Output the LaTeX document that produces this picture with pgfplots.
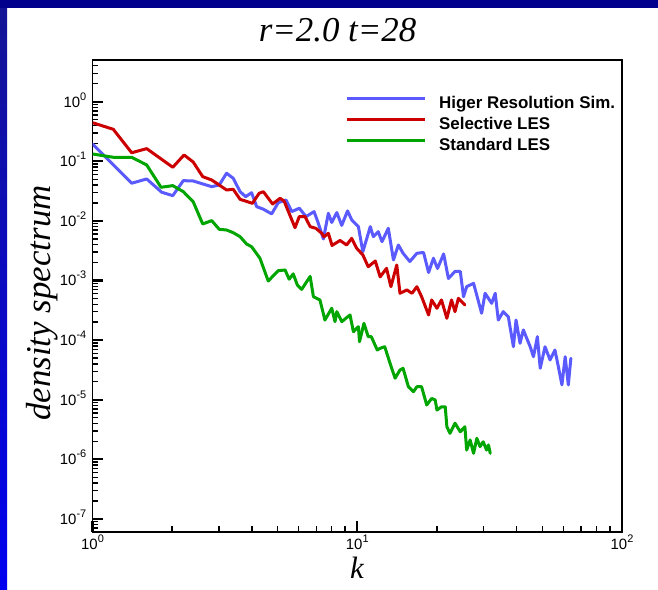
\documentclass[border=0pt]{standalone}
\usepackage{fontspec}
\setmainfont{Liberation Serif}
\newfontfamily\arial{Liberation Sans}
\usepackage{pgfplots}
\pgfplotsset{compat=1.18}
\definecolor{cblue}{RGB}{90,90,255}
\definecolor{cred}{RGB}{204,0,0}
\definecolor{cgreen}{RGB}{0,165,0}
\definecolor{navy}{RGB}{0,0,140}
\newcommand\ex[1]{\raisebox{7bp}{\fontsize{11}{11}\selectfont #1}}
\pgfplotsset{spec/.style={line width=3bp, line join=round, line cap=round}}
\begin{document}
\begin{tikzpicture}
\useasboundingbox (0,0) rectangle (658bp,590bp);
\fill[white] (0,0) rectangle (658bp,590bp);
\shade[top color={rgb,255:red,20;green,20;blue,150}, bottom color={rgb,255:red,0;green,0;blue,240}] (0,0) rectangle (7bp,582bp);
\fill[navy] (0,582bp) rectangle (658bp,590bp);
\node[anchor=base] at (337.5bp,548bp) {\fontsize{35}{35}\selectfont\itshape r=2.0 t=28};
\node[anchor=base,rotate=90] at (50bp,287bp) {\fontsize{35}{35}\selectfont\itshape density spectrum};
\node[anchor=base] at (357bp,12bp) {\fontsize{31}{31}\selectfont\itshape k};
\begin{axis}[
  at={(92.5bp,58.3bp)}, anchor=south west,
  scale only axis, width=529.5bp, height=471.7bp,
  xmode=log, ymode=log,
  xmin=1, xmax=100, ymin=6.1e-8, ymax=5,
  xtick={1,10,100},
  xticklabels={10\ex{0},10\ex{1},10\ex{2}},
  minor xtick={2,3,4,5,6,7,8,9,20,30,40,50,60,70,80,90},
  ytick={1e-7,1e-6,1e-5,1e-4,1e-3,1e-2,1e-1,1},
  yticklabels={10\ex{-7},10\ex{-6},10\ex{-5},10\ex{-4},10\ex{-3},10\ex{-2},10\ex{-1},10\ex{0}},
  minor ytick={7e-8,8e-8,9e-8,
    2e-7,3e-7,4e-7,5e-7,6e-7,7e-7,8e-7,9e-7,
    2e-6,3e-6,4e-6,5e-6,6e-6,7e-6,8e-6,9e-6,
    2e-5,3e-5,4e-5,5e-5,6e-5,7e-5,8e-5,9e-5,
    2e-4,3e-4,4e-4,5e-4,6e-4,7e-4,8e-4,9e-4,
    2e-3,3e-3,4e-3,5e-3,6e-3,7e-3,8e-3,9e-3,
    2e-2,3e-2,4e-2,5e-2,6e-2,7e-2,8e-2,9e-2,
    0.2,0.3,0.4,0.5,0.6,0.7,0.8,0.9,2,3,4},
  xtick pos=bottom, ytick pos=left,
  xtick align=inside, ytick align=inside,
  major tick length=11bp, minor tick length=6bp,
  every tick/.style={black, line width=1.4bp},
  every major tick/.append style={line width=2.2bp},
  axis line style={line width=1.8bp, black},
  /pgf/number format/assume math mode=true,
  ticklabel style={font=\arial\fontsize{15}{15}\selectfont},
  yticklabel style={anchor=base east, inner sep=0pt, xshift=-6bp, yshift=-5.4bp},
  xticklabel style={anchor=base, inner sep=0pt, yshift=-17.5bp},
  legend style={at={(axis description cs:0.478,0.924)}, anchor=north west,
    draw=none, fill=none, inner sep=0pt, column sep=13bp, row sep=5bp,
    font=\arial\bfseries\fontsize{17}{17}\selectfont,
    nodes={inner sep=0pt, text height=12.5bp, text depth=3.5bp}},
  legend cell align=left,
  legend image code/.code={\draw[#1, line width=2.3bp, line cap=butt] (0bp,5.5bp) -- (78bp,5.5bp);},
]
\addplot[draw=cblue, spec] coordinates {
(1.0,0.195) (1.406,0.0428) (1.602,0.0505) (1.826,0.0302) (2.01,0.0265) (2.203,0.0473)
(2.40,0.0467) (2.82,0.0375) (3.01,0.040) (3.21,0.063) (3.40,0.0519) (3.61,0.0309)
(3.79,0.0255) (3.99,0.0297) (4.17,0.0173) (4.42,0.0157) (4.75,0.0131) (5.03,0.0202)
(5.38,0.0224) (5.66,0.0143) (6.04,0.0163) (6.41,0.0118) (6.87,0.0143) (7.13,0.0091)
(7.45,0.00497) (7.78,0.0134) (8.01,0.0094) (8.37,0.0138) (8.74,0.0084) (9.19,0.0147)
(9.53,0.0104) (10.1,0.0080) (10.5,0.00304) (11.2,0.0080) (11.5,0.00543) (12.0,0.00659)
(12.4,0.00448) (13.1,0.00752) (13.7,0.00221) (14.3,0.00394) (14.9,0.00286) (15.8,0.00208)
(16.8,0.00286) (17.8,0.00295) (18.6,0.00136) (19.4,0.00236) (20.1,0.00159) (21.2,0.00279)
(22.1,0.00108) (23.4,0.00142) (24.5,0.00142) (25.2,0.000535) (25.9,0.000787) (27.5,0.000897)
(29.5,0.000282) (30.4,0.00061) (32.2,0.000414) (33.2,0.00061) (34.1,0.000217) (35.6,0.0003)
(37.2,0.000247) (38.9,0.0000774) (39.8,0.000217) (41.2,0.0000883) (42.4,0.000148) (45.0,0.0000774)
(46.3,0.0000526) (47.9,0.000114) (49.1,0.0000337) (51.2,0.0000774) (53.5,0.0000464) (55.8,0.0000682)
(57.5,0.0000358) (59.3,0.0000177) (61.0,0.0000526) (62.7,0.0000177) (64.1,0.0000495)
};
\addlegendentry{Higer Resolution Sim.}
\addplot[draw=cred, spec] coordinates {
(1.0,0.444) (1.198,0.344) (1.406,0.139) (1.602,0.163) (2.01,0.0793) (2.217,0.1276)
(2.40,0.0973) (2.608,0.0552) (2.82,0.0485) (3.21,0.033) (3.40,0.0339) (3.61,0.023)
(4.02,0.0197) (4.26,0.029) (4.42,0.0309) (4.79,0.0192) (5.11,0.0239) (5.29,0.0216)
(5.82,0.00769) (6.04,0.0118) (6.35,0.0118) (6.64,0.0080) (6.98,0.0075) (7.34,0.0062)
(7.49,0.0054) (7.78,0.0062) (8.03,0.00387) (8.61,0.00469) (9.12,0.00394) (9.53,0.0051)
(9.93,0.00351) (10.5,0.00268) (11.0,0.0017) (11.7,0.00212) (12.2,0.00115) (12.9,0.0016)
(13.4,0.000787) (14.1,0.00182) (14.5,0.00061) (15.4,0.000693) (16.1,0.00061) (16.8,0.000787)
(17.5,0.000535) (18.6,0.000264) (19.1,0.000471) (20.0,0.000342) (20.8,0.000471) (21.8,0.000232)
(22.7,0.000471) (23.4,0.0003) (24.1,0.000502) (25.5,0.000388)
};
\addlegendentry{Selective LES}
\addplot[draw=cgreen, spec] coordinates {
(1.0,0.1325) (1.198,0.1167) (1.406,0.1167) (1.602,0.0867) (1.815,0.0366) (2.01,0.039)
(2.203,0.0309) (2.40,0.021) (2.608,0.00887) (2.82,0.0101) (3.01,0.00723) (3.21,0.00703)
(3.40,0.00634) (3.61,0.00543) (3.82,0.00409) (3.99,0.00369) (4.29,0.00236) (4.61,0.00098)
(5.03,0.00146) (5.34,0.0015) (5.53,0.00105) (5.73,0.00129) (5.94,0.00084) (6.17,0.00071)
(6.64,0.00117) (6.83,0.000535) (7.23,0.000471) (7.55,0.000217) (8.01,0.000342) (8.24,0.000204)
(8.37,0.0003) (8.74,0.000204) (9.39,0.000264) (9.67,0.000138) (10.1,0.000168) (10.2,0.000094)
(10.6,0.000191) (11.0,0.000114) (11.3,0.000114) (11.9,0.0000682) (12.2,0.0000728) (12.7,0.0000774)
(13.3,0.0000408) (13.9,0.0000229) (14.5,0.0000315) (14.9,0.0000336) (15.6,0.0000165) (16.3,0.0000136)
(16.8,0.0000165) (17.5,0.0000165) (18.3,0.00000815) (19.1,0.0000105) (19.7,0.0000099) (20.0,0.0000067)
(20.8,0.0000076) (21.5,0.0000076) (21.8,0.00000352) (22.4,0.00000273) (23.4,0.00000402) (24.5,0.0000029)
(25.5,0.00000352) (25.9,0.00000143) (26.7,0.00000211) (27.5,0.00000126) (28.3,0.00000225) (29.1,0.00000163)
(29.9,0.00000197) (30.8,0.00000143) (31.3,0.00000174) (31.8,0.00000126)
};
\addlegendentry{Standard LES}
\end{axis}
\end{tikzpicture}
\end{document}
